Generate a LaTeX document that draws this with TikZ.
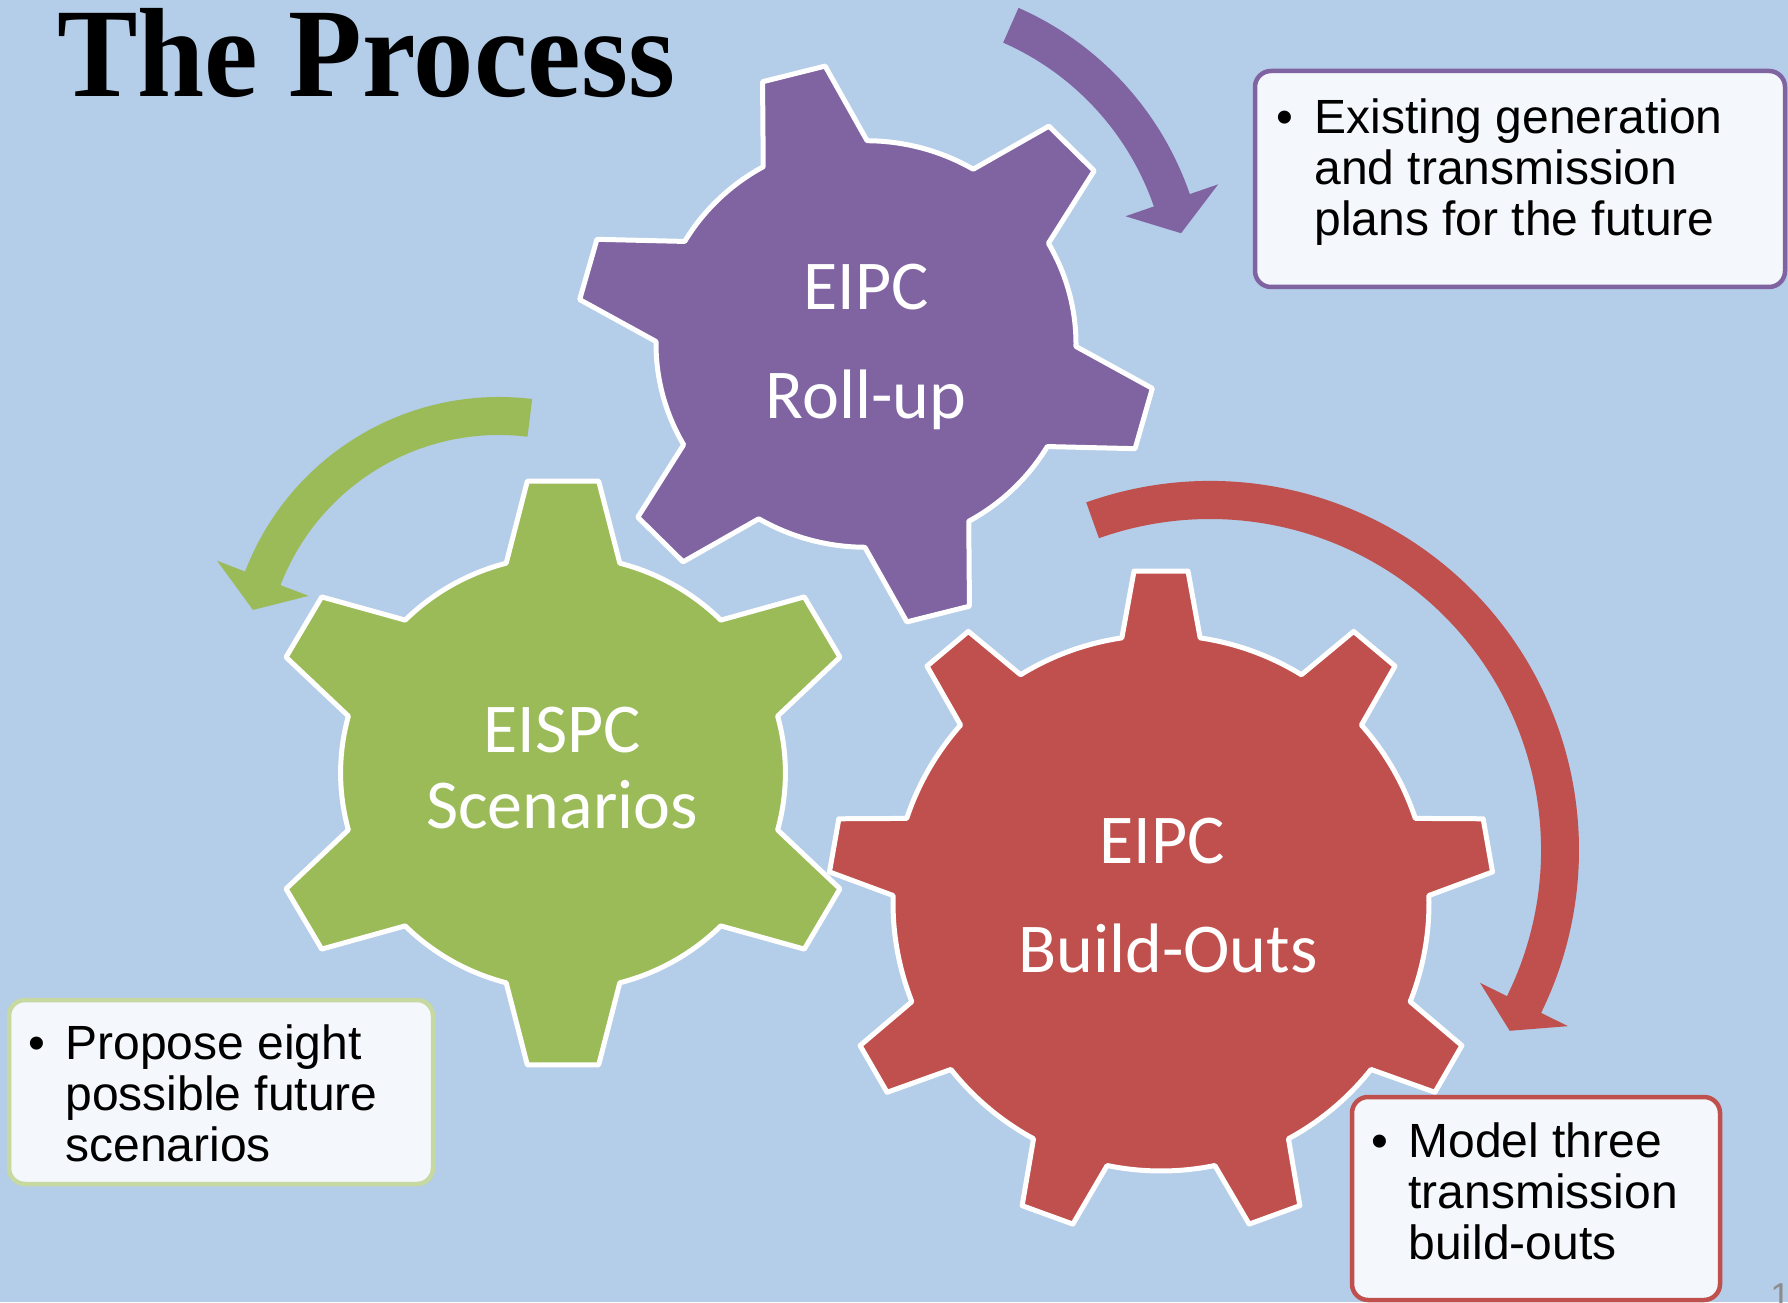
\documentclass[tikz,border=0pt]{standalone}
\usepackage{fontspec}
\usepackage{graphicx}
\setmainfont{Liberation Serif}
\newfontfamily\gearfont{Carlito}
\newfontfamily\notefont{Liberation Sans}

\definecolor{slidebg}{HTML}{B4CDE8}
\definecolor{rollup}{HTML}{8064A2}
\definecolor{scenario}{HTML}{9BBB59}
\definecolor{buildout}{HTML}{C0504D}
\definecolor{scenarioedge}{HTML}{C5D9A0}
\definecolor{notefill}{HTML}{F4F7FB}
\definecolor{pagegray}{HTML}{8C8C8C}

\tikzset{
  gear/.style={draw=white, line width=2.5pt, line join=round},
  gearlabel/.style={anchor=base, inner sep=0pt, text=white,
    font=\gearfont\fontsize{35}{35}\selectfont},
  notebox/.style={draw=#1, line width=2.25pt, fill=notefill, rounded corners=8pt},
  notetext/.style={anchor=base west, inner sep=0pt,
    font=\notefont\fontsize{24}{25.5}\selectfont},
  notebullet/.style={anchor=base, inner sep=0pt,
    font=\notefont\fontsize{24}{25.5}\selectfont},
}

% #1 colour, #2 centre, #3 teeth, #4 first tooth angle,
% #5 root radius, #6 tip radius, #7 half angle at root, #8 half angle at tip, #9 squeeze
\newcommand{\gearshape}[9]{%
  \pgfmathsetmacro\gstep{360/#3}
  \draw[gear, fill=#1, shift={(#2)}, #9] ({#4-#7}:#5)
    \foreach \k in {1,...,#3} {
      -- ({#4+(\k-1)*\gstep-#8}:#6) -- ({#4+(\k-1)*\gstep+#8}:#6)
      -- ({#4+(\k-1)*\gstep+#7}:#5)
      arc[start angle={#4+(\k-1)*\gstep+#7}, end angle={#4+\k*\gstep-#7}, radius=#5]
    } -- cycle;}

% #1 colour, #2 centre, #3 radius, #4 tail angle, #5 head angle, #6 tip angle
\newcommand{\bentarrow}[6]{%
  \fill[#1, shift={(#2)}]
    ({#4}:{#3+19}) arc[start angle=#4, end angle=#5, radius=#3+19]
    -- ({#5}:{#3+49}) -- ({#6}:{#3}) -- ({#5}:{#3-49})
    -- ({#5}:{#3-19}) arc[start angle=#5, end angle=#4, radius=#3-19] -- cycle;}

\begin{document}
\begin{tikzpicture}[x=0.5pt, y=0.5pt]
  \clip (0,0) rectangle (1788,1302);
  \fill[slidebg] (0,0) rectangle (1788,1302);

  \node[anchor=base west, inner sep=0pt, font=\bfseries\fontsize{63.5}{63.5}\selectfont]
    (title) at (57,1205) {\scalebox{0.95}[1]{The Process}};

  % turning arrows
  \bentarrow{rollup}{891,1005}{297}{66.2}{19}{12.4}
  \bentarrow{scenario}{499,633}{253}{83}{159}{166.5}
  \bentarrow{buildout}{1210,452}{350}{109.6}{-26.2}{-31.1}

  % gears
  \gearshape{rollup}{866,958}{6}{104.5}{210}{290}{14.8}{6.4}{yscale=0.968}
  \gearshape{scenario}{563,529}{6}{90}{217}{294}{14.8}{6.8}{xscale=1.025}
  \gearshape{buildout}{1161,399}{9}{90}{268}{333}{8.4}{4.65}{}

  \node[gearlabel] (rollupA) at (866,992) {EIPC};
  \node[gearlabel] (rollupB) at (866,883) {Roll-up};
  \node[gearlabel] (scenarioA) at (562,549) {EISPC};
  \node[gearlabel] (scenarioB) at (562,473) {Scenarios};
  \node[gearlabel] (buildoutA) at (1162,438) {EIPC};
  \node[gearlabel] (buildoutB) at (1168,329) {Build-Outs};

  % notes
  \draw[notebox=rollup] (1255,1015) rectangle (1785,1231);
  \node[notebullet] (existingdot) at (1285,1168.6) {\textbullet};
  \node[notetext] (existing) at (1314,1168.6)
    {\begin{tabular}[t]{@{}l@{}}Existing generation\\and transmission\\plans for the future\end{tabular}};

  \draw[notebox=scenarioedge] (9,118) rectangle (433,302);
  \node[notebullet] (proposedot) at (36.5,242.7) {\textbullet};
  \node[notetext] (propose) at (65,242.7)
    {\begin{tabular}[t]{@{}l@{}}Propose eight\\possible future\\scenarios\end{tabular}};

  \draw[notebox=buildout] (1352,2) rectangle (1720,205);
  \node[notebullet] (modeldot) at (1380,144.6) {\textbullet};
  \node[notetext] (model) at (1408,144.6)
    {\begin{tabular}[t]{@{}l@{}}Model three\\transmission\\build-outs\end{tabular}};

  \node[anchor=north west, inner sep=0pt, text=pagegray,
    font=\notefont\fontsize{18}{18}\selectfont] (pagenum) at (1770,19) {1};
\end{tikzpicture}
\end{document}
